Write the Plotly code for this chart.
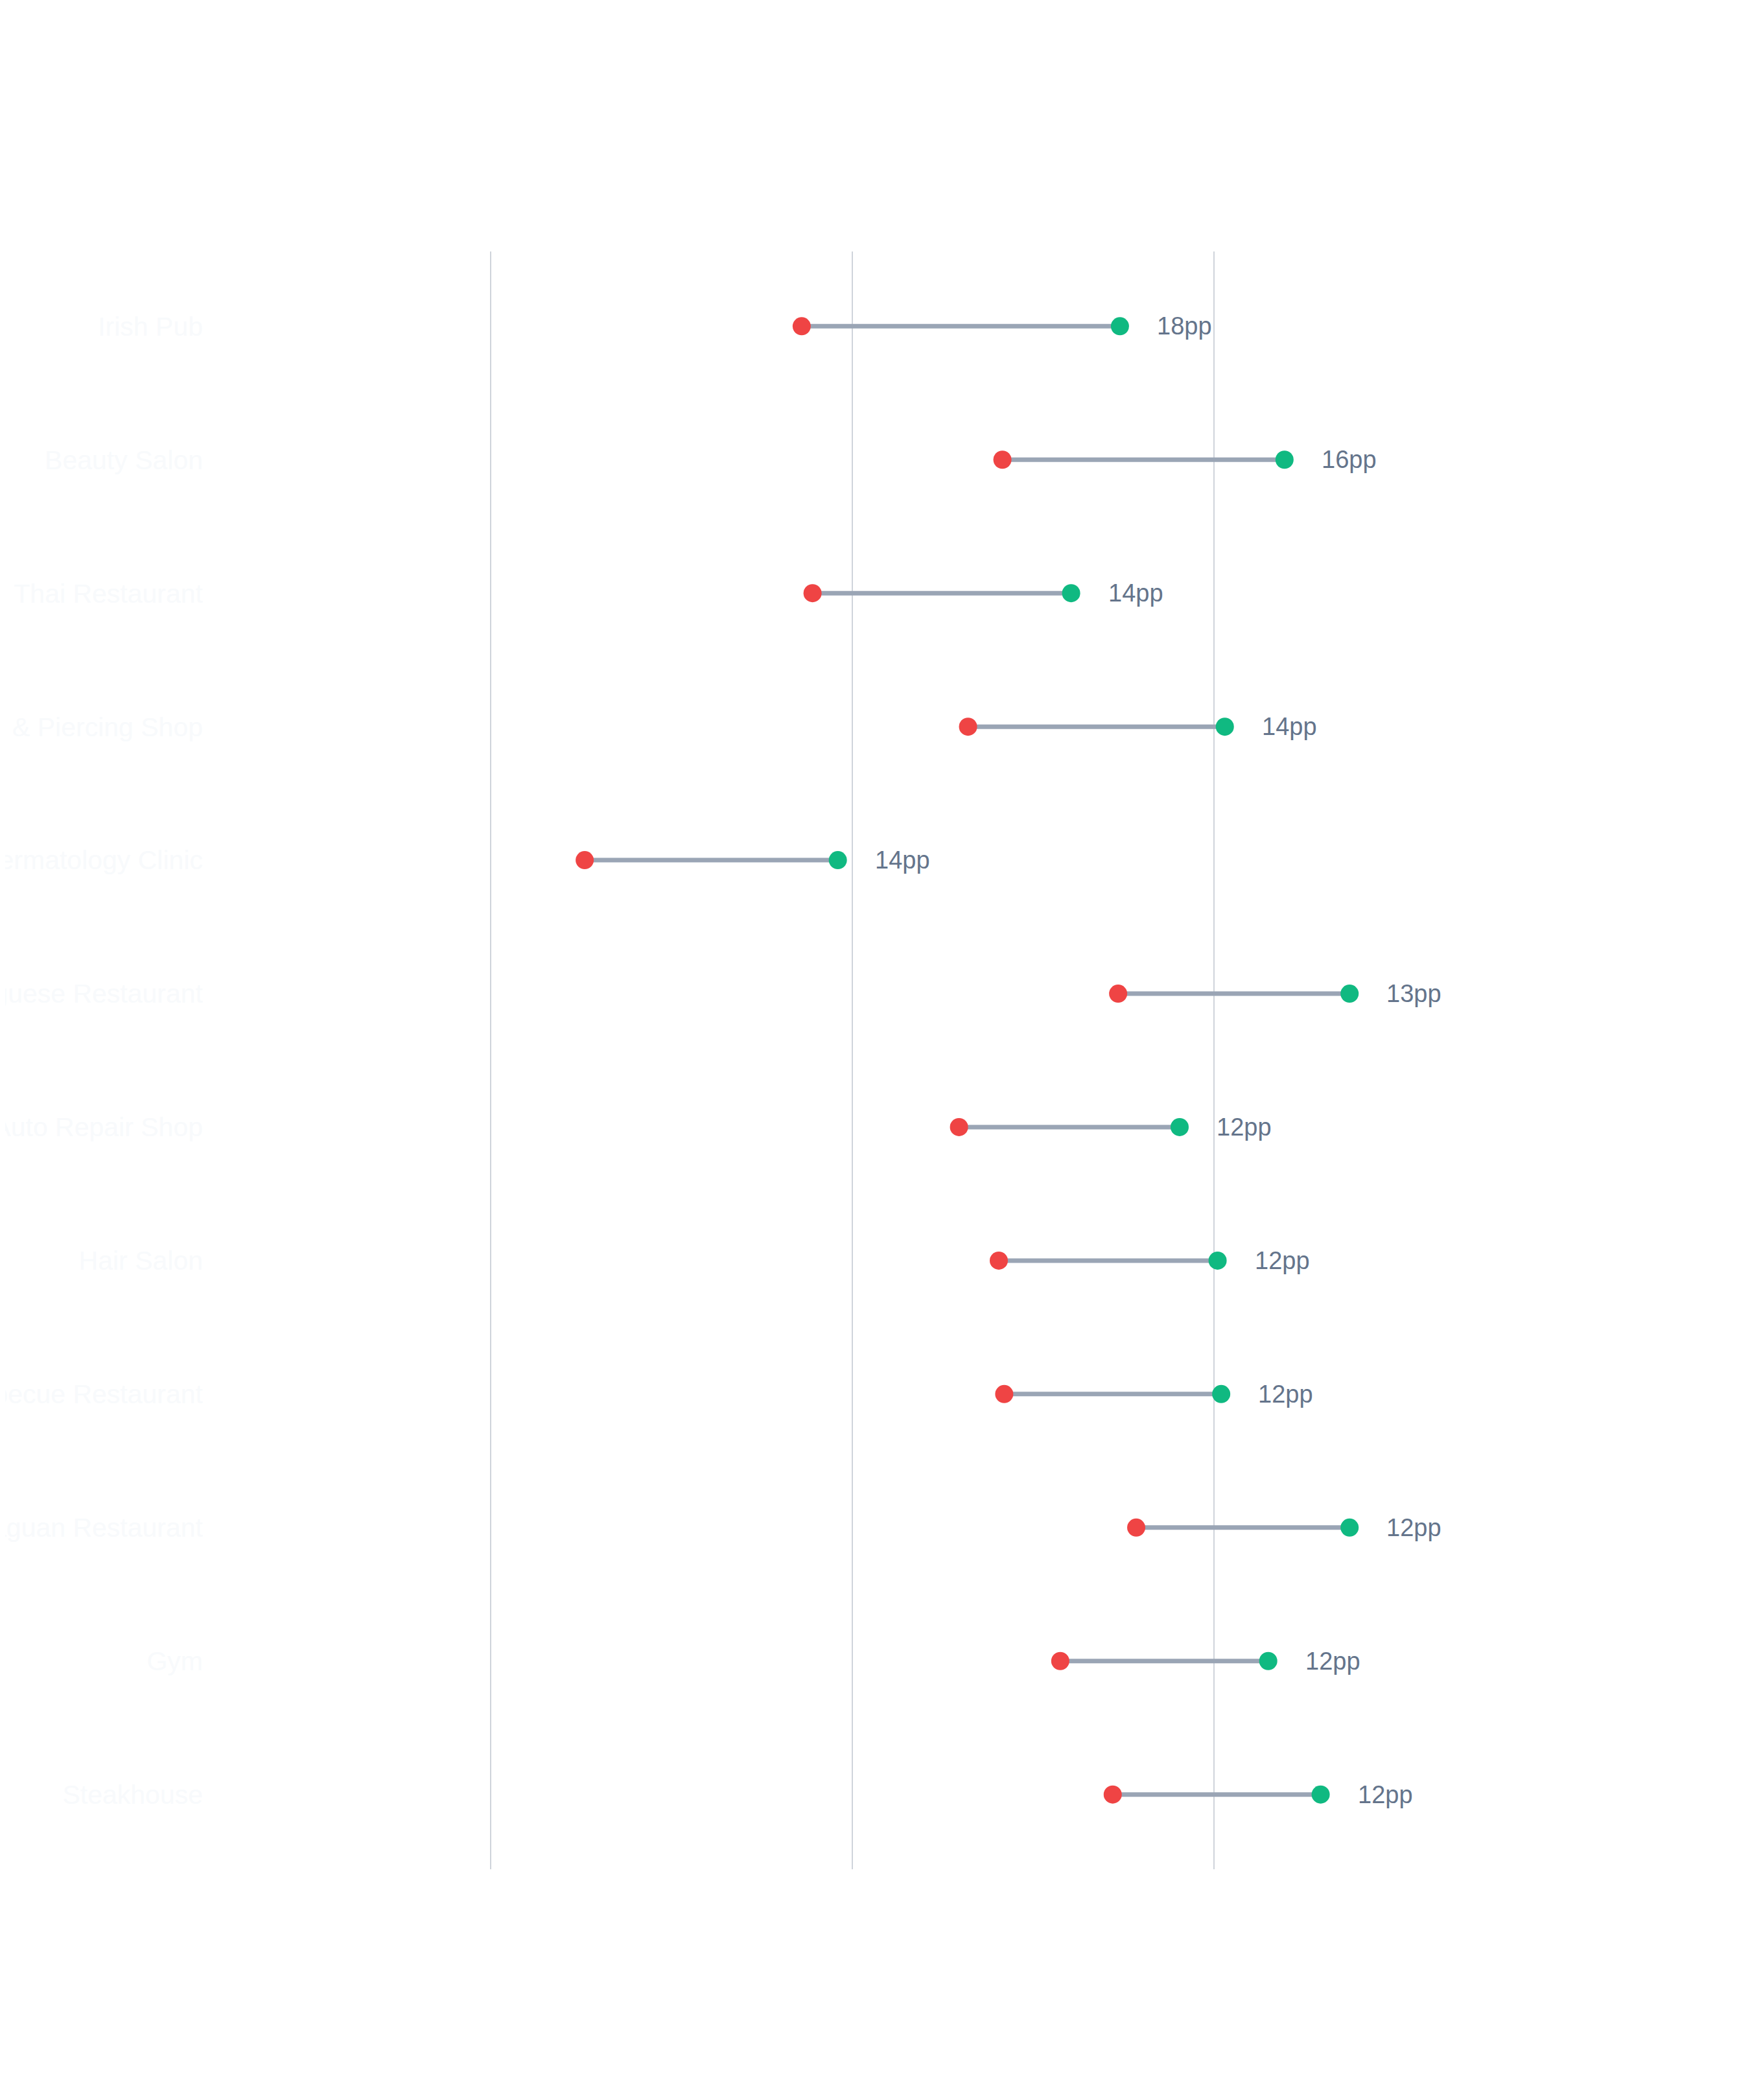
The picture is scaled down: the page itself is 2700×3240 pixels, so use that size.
import plotly.graph_objects as go

categories = ["Irish Pub", "Beauty Salon", "Thai Restaurant", "Tattoo & Piercing Shop",
              "Dermatology Clinic", "Portuguese Restaurant", "Auto Repair Shop", "Hair Salon",
              "Barbecue Restaurant", "Nicaraguan Restaurant", "Gym", "Steakhouse"]
before = [37.2, 48.3, 37.8, 46.4, 25.2, 54.7, 45.9, 48.1, 48.4, 55.7, 51.5, 54.4]
after = [54.8, 63.9, 52.1, 60.6, 39.2, 67.5, 58.1, 60.2, 60.4, 67.5, 63.0, 65.9]
gap_labels = ["18pp", "16pp", "14pp", "14pp", "14pp", "13pp", "12pp", "12pp", "12pp", "12pp", "12pp", "12pp"]

RED = "#ef4444"
GREEN = "#10b981"

# connector segments, one per row, split with None
seg_x, seg_y = [], []
for c, a, b in zip(categories, before, after):
    seg_x += [a, b, None]
    seg_y += [c, c, None]

fig = go.Figure()
fig.add_trace(go.Scatter(x=seg_x, y=seg_y, mode="lines",
                         line=dict(color="#9aa5b5", width=7), hoverinfo="skip"))
fig.add_trace(go.Scatter(x=before, y=categories, mode="markers", name="before",
                         marker=dict(color=RED, size=28, line_width=0)))
fig.add_trace(go.Scatter(x=after, y=categories, mode="markers", name="after",
                         marker=dict(color=GREEN, size=28, line_width=0)))

annotations = [dict(x=b, y=c, xref="x", yref="y", text=t, showarrow=False,
                    xanchor="left", yanchor="middle", xshift=55,
                    font=dict(size=38, color="#64748b"))
               for c, b, t in zip(categories, after, gap_labels)]

fig.update_layout(
    width=2700, height=3240,
    margin=dict(l=323, r=337, t=380, b=364),
    paper_bgcolor="white", plot_bgcolor="white",
    showlegend=False,
    font=dict(family="Liberation Sans, Arial, sans-serif"),
    annotations=annotations,
)
fig.update_xaxes(range=[4.73, 77.85], tick0=0, dtick=20, showgrid=True,
                 gridcolor="#cfd4db", gridwidth=2, zeroline=False, automargin=False,
                 showticklabels=False, showline=False, ticks="")
fig.update_yaxes(type="category", range=[11.56, -0.56], showgrid=False,
                 zeroline=False, showline=False, ticks="", ticklabelstandoff=17,
                 automargin=False, tickfont=dict(size=41, color="#f8fafc"))

fig.write_html("out.html")
